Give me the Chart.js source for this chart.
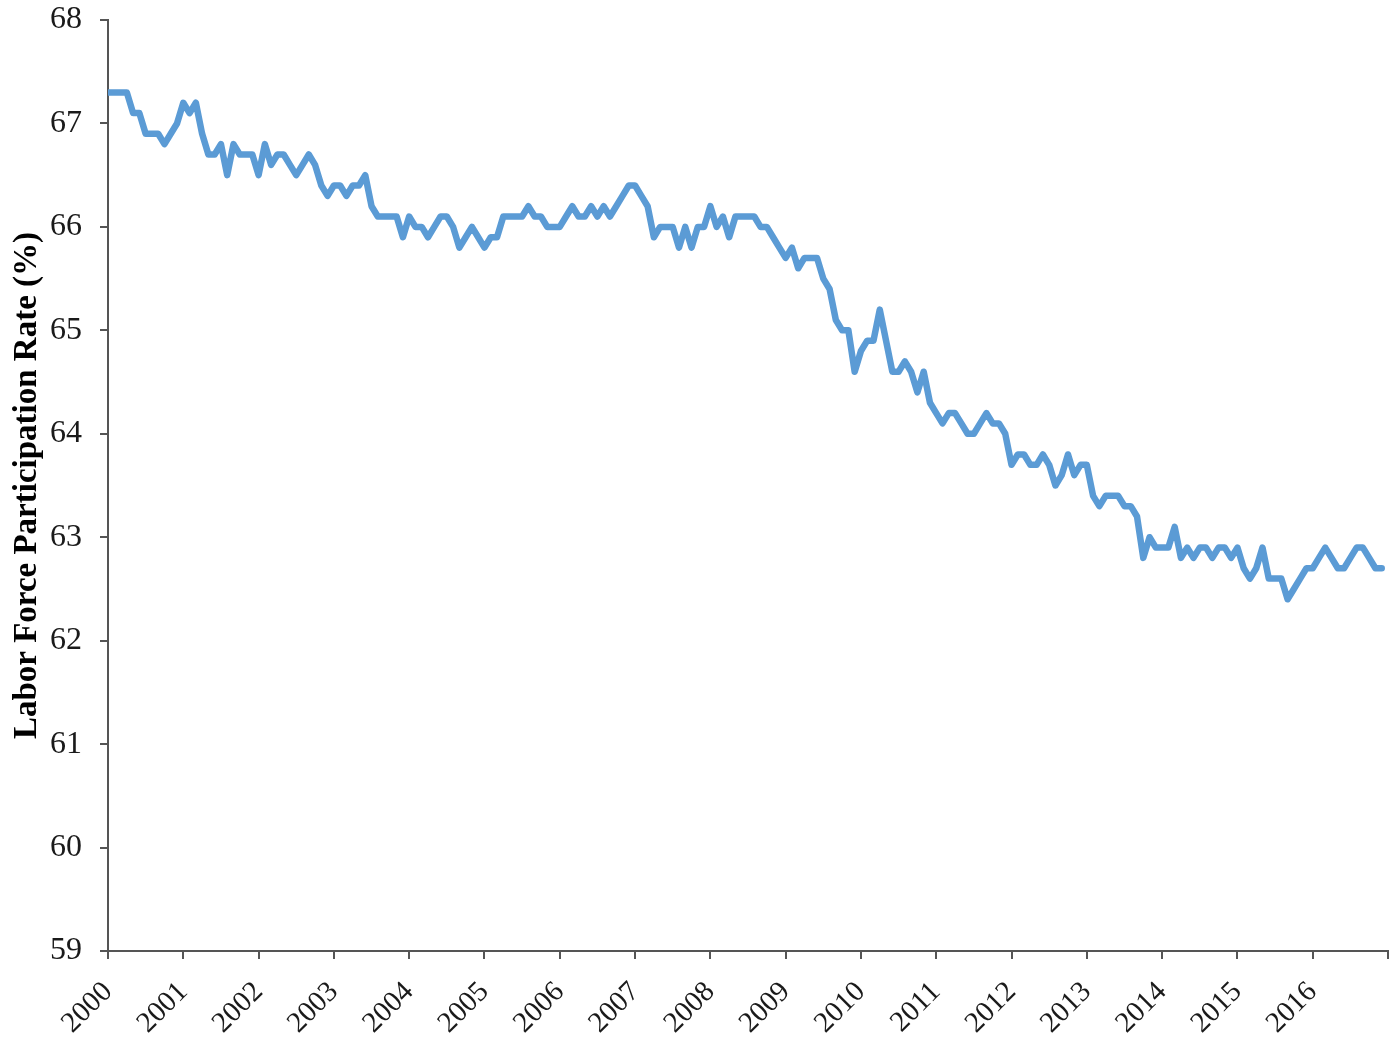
<!DOCTYPE html>
<html>
<head>
<meta charset="utf-8">
<script src="https://cdn.jsdelivr.net/npm/chart.js@4/dist/chart.umd.min.js"></script>
<style>
  html, body { margin: 0; padding: 0; background: #fff; }
  #wrap { width: 1395px; height: 1045px; position: relative; }
</style>
</head>
<body>
<div id="wrap"><canvas id="lfprChart"></canvas></div>
<script>
// Datos: tasa de participación mensual, enero 2000 - diciembre 2016
const startYear = 2000;
const endYear = 2017;
const yearLabels = [2000, 2001, 2002, 2003, 2004, 2005, 2006, 2007, 2008, 2009, 2010, 2011, 2012, 2013, 2014, 2015, 2016];
const yTicks = [59, 60, 61, 62, 63, 64, 65, 66, 67, 68];
const monthlyRate = [
    67.3, 67.3, 67.3, 67.3, 67.1, 67.1, 66.9, 66.9, 66.9, 66.8, 66.9, 67.0, // 2000
    67.2, 67.1, 67.2, 66.9, 66.7, 66.7, 66.8, 66.5, 66.8, 66.7, 66.7, 66.7, // 2001
    66.5, 66.8, 66.6, 66.7, 66.7, 66.6, 66.5, 66.6, 66.7, 66.6, 66.4, 66.3, // 2002
    66.4, 66.4, 66.3, 66.4, 66.4, 66.5, 66.2, 66.1, 66.1, 66.1, 66.1, 65.9, // 2003
    66.1, 66.0, 66.0, 65.9, 66.0, 66.1, 66.1, 66.0, 65.8, 65.9, 66.0, 65.9, // 2004
    65.8, 65.9, 65.9, 66.1, 66.1, 66.1, 66.1, 66.2, 66.1, 66.1, 66.0, 66.0, // 2005
    66.0, 66.1, 66.2, 66.1, 66.1, 66.2, 66.1, 66.2, 66.1, 66.2, 66.3, 66.4, // 2006
    66.4, 66.3, 66.2, 65.9, 66.0, 66.0, 66.0, 65.8, 66.0, 65.8, 66.0, 66.0, // 2007
    66.2, 66.0, 66.1, 65.9, 66.1, 66.1, 66.1, 66.1, 66.0, 66.0, 65.9, 65.8, // 2008
    65.7, 65.8, 65.6, 65.7, 65.7, 65.7, 65.5, 65.4, 65.1, 65.0, 65.0, 64.6, // 2009
    64.8, 64.9, 64.9, 65.2, 64.9, 64.6, 64.6, 64.7, 64.6, 64.4, 64.6, 64.3, // 2010
    64.2, 64.1, 64.2, 64.2, 64.1, 64.0, 64.0, 64.1, 64.2, 64.1, 64.1, 64.0, // 2011
    63.7, 63.8, 63.8, 63.7, 63.7, 63.8, 63.7, 63.5, 63.6, 63.8, 63.6, 63.7, // 2012
    63.7, 63.4, 63.3, 63.4, 63.4, 63.4, 63.3, 63.3, 63.2, 62.8, 63.0, 62.9, // 2013
    62.9, 62.9, 63.1, 62.8, 62.9, 62.8, 62.9, 62.9, 62.8, 62.9, 62.9, 62.8, // 2014
    62.9, 62.7, 62.6, 62.7, 62.9, 62.6, 62.6, 62.6, 62.4, 62.5, 62.6, 62.7, // 2015
    62.7, 62.8, 62.9, 62.8, 62.7, 62.7, 62.8, 62.9, 62.9, 62.8, 62.7, 62.7  // 2016
];

const serif = "'Liberation Serif', 'DejaVu Serif', serif";
const axisColor = '#555555';

// cada mes se ubica en su fracción de año
const points = monthlyRate.map((v, i) => ({ x: startYear + i / 12, y: v }));

function initChart() {
    const ctx = document.getElementById('lfprChart');
    if (!ctx) return;

    new Chart(ctx, {
        type: 'line',
        data: {
            datasets: [{
                label: 'Labor Force Participation Rate',
                data: points,
                borderColor: '#5B9BD5',
                backgroundColor: '#5B9BD5',
                borderWidth: 6.5,
                borderJoinStyle: 'round',
                borderCapStyle: 'round',
                pointRadius: 0,
                tension: 0,
                fill: false
            }]
        },
        options: {
            responsive: true,
            maintainAspectRatio: false,
            animation: false,
            layout: {
                padding: { top: 20, right: 7, left: 0, bottom: 0 }
            },
            plugins: {
                legend: { display: false },
                tooltip: { enabled: false }
            },
            scales: {
                x: {
                    type: 'linear',
                    min: startYear,
                    max: endYear,
                    afterFit: function(scale) {
                        scale.height = 94;
                        scale.paddingRight = 0;
                        scale.paddingLeft = 0;
                    },
                    afterBuildTicks: function(scale) {
                        scale.ticks = yearLabels.concat([endYear]).map(v => ({ value: v }));
                    },
                    ticks: {
                        autoSkip: false,
                        minRotation: 45,
                        maxRotation: 45,
                        padding: 16,
                        color: '#1a1a1a',
                        font: { family: serif, size: 29 },
                        callback: function(value) {
                            return yearLabels.includes(value) ? String(value) : '';
                        }
                    },
                    grid: {
                        drawOnChartArea: false,
                        drawTicks: true,
                        tickLength: 8,
                        color: axisColor,
                        lineWidth: 2
                    },
                    border: { display: true, color: axisColor, width: 2 }
                },
                y: {
                    min: 59,
                    max: 68,
                    afterFit: function(scale) {
                        scale.width = 108;
                        scale.paddingTop = 0;
                        scale.paddingBottom = 0;
                    },
                    afterBuildTicks: function(scale) {
                        scale.ticks = yTicks.map(v => ({ value: v }));
                    },
                    ticks: {
                        padding: 18,
                        color: '#1a1a1a',
                        font: { family: serif, size: 32 },
                        callback: function(value) { return String(value); }
                    },
                    title: {
                        display: true,
                        text: 'Labor Force Participation Rate (%)',
                        color: '#000',
                        font: { family: serif, size: 33, weight: 'bold' },
                        padding: { top: 8, bottom: 0 }
                    },
                    grid: {
                        drawOnChartArea: false,
                        drawTicks: true,
                        tickLength: 8,
                        color: axisColor,
                        lineWidth: 2
                    },
                    border: { display: true, color: axisColor, width: 2 }
                }
            }
        }
    });
}

document.addEventListener('DOMContentLoaded', function() {
    initChart();
});
</script>
</body>
</html>
